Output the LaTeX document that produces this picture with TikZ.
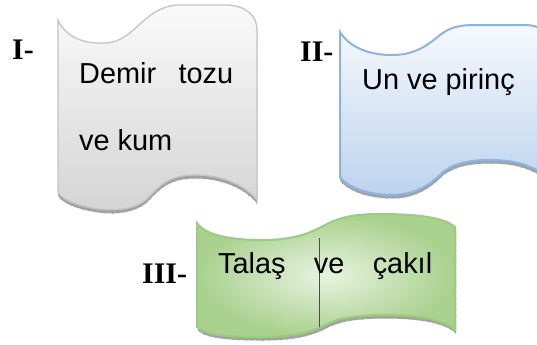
\documentclass[tikz,border=0pt]{standalone}
\usepackage{fontspec}
\setmainfont{Liberation Sans}
\newfontfamily\labelfont{Liberation Serif}
\usetikzlibrary{shadings}
\definecolor{grayedge}{HTML}{C4C4C4}
\definecolor{graytop}{HTML}{FAFAFA}
\definecolor{graybot}{HTML}{D4D4D4}
\definecolor{blueedge}{HTML}{8FB3DC}
\definecolor{bluetop}{HTML}{F6F9FD}
\definecolor{bluebot}{HTML}{BCD3EE}
\definecolor{greenedge}{HTML}{9CCC7E}
\definecolor{greenin}{HTML}{E8F3E0}
\definecolor{greenout}{HTML}{A9D18E}
\definecolor{shadowc}{HTML}{A3A3A3}
\newcommand\wavepathI{(58,20) .. controls (66,38) and (85,44) .. (105,43) .. controls (135,42) and (142,8) .. (177,5) -- (225,5) .. controls (245,5) and (257,15) .. (257,30) -- (257,200) .. controls (245,185) and (222,175) .. (195,175) .. controls (170,175) and (160,185) .. (148,198) .. controls (135,210) and (115,211) .. (98,209) .. controls (78,206) and (62,200) .. (58,192) -- cycle}
\newcommand\wavepathII{(340,32) .. controls (350,48) and (370,55) .. (392,55) .. controls (415,55) and (428,45) .. (440,35) .. controls (450,27) and (460,25) .. (475,25) -- (525,25) .. controls (535,25) and (540,28) .. (545,32) -- (545,175) .. controls (530,165) and (515,160) .. (490,160) .. controls (465,160) and (452,165) .. (443,172) .. controls (430,185) and (415,195) .. (392,195) .. controls (370,195) and (348,188) .. (340,177) -- cycle}
\newcommand\wavepathIII{(197,223) .. controls (205,235) and (230,240) .. (262,240) .. controls (295,240) and (310,233) .. (325,225) .. controls (340,217) and (355,214) .. (380,214) .. controls (420,214) and (445,218) .. (455,227) -- (455,330) .. controls (445,320) and (420,315) .. (385,315) .. controls (355,315) and (338,318) .. (325,325) .. controls (310,333) and (290,337) .. (262,337) .. controls (230,337) and (205,335) .. (197,327) -- cycle}
\begin{document}
\begin{tikzpicture}[x=1bp,y=-1bp,
  bodytext/.style={inner sep=0pt,font=\fontsize{29}{34}\selectfont},
  numlabel/.style={inner sep=0pt,font=\labelfont\bfseries\fontsize{30}{34}\selectfont},
  shadowband/.style={fill=shadowc,draw=black!45,line width=0.5bp,dash pattern=on 1bp off 5bp}]
\useasboundingbox (0,0) rectangle (537,344);
\fill[white] (0,0) rectangle (537,344);
% shape I
\path[shadowband,shift={(0,3.5)}] \wavepathI;
\path[top color=graytop,bottom color=graybot,draw=grayedge,line width=1.3bp] \wavepathI;
% shape II
\path[shadowband,shift={(0,3.5)}] \wavepathII;
\path[top color=bluetop,bottom color=bluebot,draw=blueedge,line width=2bp] \wavepathII;
% shape III
\path[shadowband,shift={(1,3.5)}] \wavepathIII;
\path[inner color=greenin,outer color=greenout,draw=greenedge,line width=2bp] \wavepathIII;
\coordinate (d1) at (319,238);
\coordinate (d2) at (319,327);
\draw[black!70,line width=0.5bp] (d1) -- (d2);
% texts
\node[bodytext,anchor=base west] (t1) at (79,83) {\hbox to 154bp{Demir\hfill tozu}};
\node[bodytext,anchor=base west] (t2) at (79,150) {ve kum};
\node[bodytext,anchor=base west] (t3) at (362,89) {Un ve pirinç};
\node[bodytext,anchor=base west] (t4) at (218,273) {\hbox to 214bp{Talaş\hfill ve\hfill çakıl}};
% labels
\node[numlabel,anchor=base west] (l1) at (12,59) {I-};
\node[numlabel,anchor=base west] (l2) at (300,61) {II-};
\node[numlabel,anchor=base west] (l3) at (142,283) {III-};
\end{tikzpicture}
\end{document}
